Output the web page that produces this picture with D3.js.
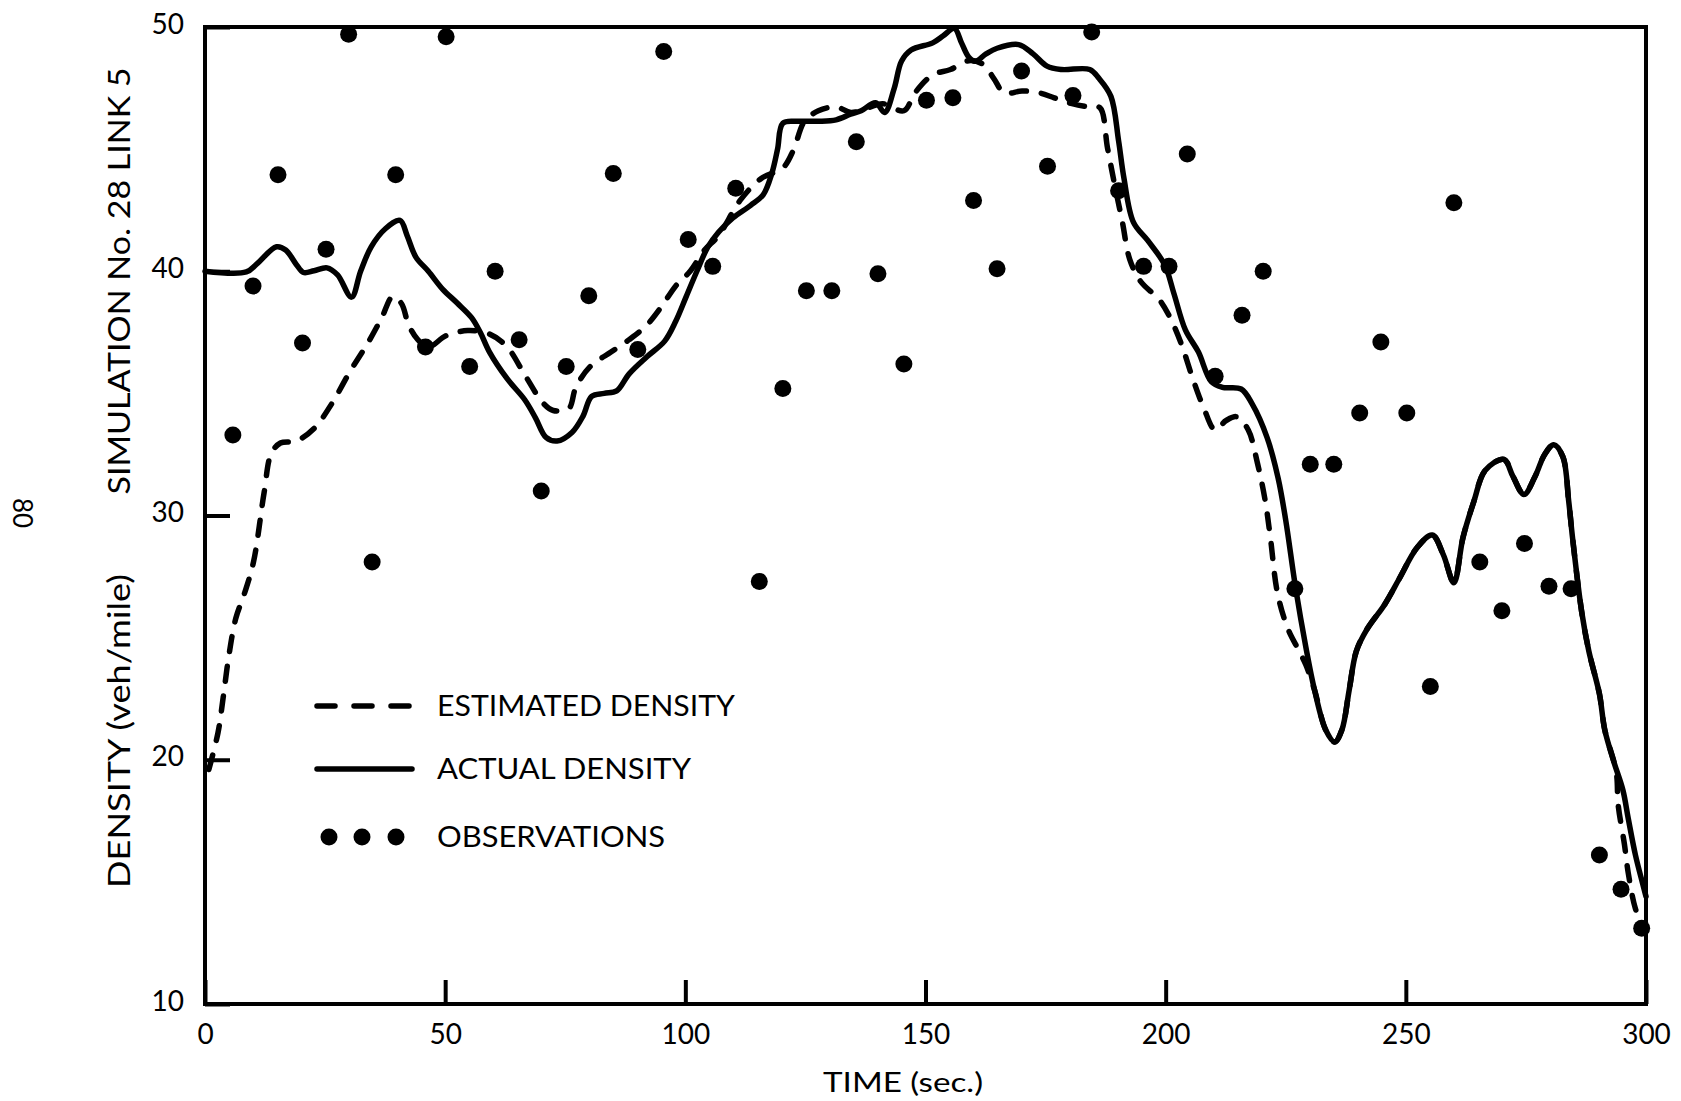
<!DOCTYPE html>
<html>
<head>
<meta charset="utf-8">
<script src="https://cdn.jsdelivr.net/npm/d3@7"></script>
<style>
  body { margin: 0; background: #ffffff; }
  svg text { font-family: Lato, "Open Sans", sans-serif; fill: #000000; }
</style>
</head>
<body>
<div id="graph"></div>
<script>
var actualTime = [ 0, 8.6, 10.8, 14.9, 16.8, 19.0, 20.5, 22.7, 25.4, 27.6, 30.5, 32.4, 34.6, 37.6, 40.6,
    42.1, 43.9, 46.5, 49.5, 52.5, 55.5, 57.3, 59.2, 62.9, 66.6, 68.8, 71.0, 73.3, 76.4, 78.7, 80.5,
    83.1, 85.7, 88.3, 92.0, 95.7, 98.0, 100.2, 102.4, 104.7, 106.9, 109.9, 113.6, 116.2, 118.0, 119.2,
    120.3, 123.3, 127.7, 131.4, 134.4, 136.6, 139.6, 141.5, 143.5, 145.0, 147.0, 151.5, 153.7, 156.0,
    157.5, 159.0, 160.4, 162.6, 164.9, 169.4, 172.4, 175.3, 178.3, 184.2, 186.1, 188.6, 190.2, 191.3,
    193.3, 196.3, 199.8, 201.7, 204.1, 206.8, 209.5, 211.8, 215.7, 218.0, 221.1, 223.4, 225.0, 227.0,
    229.2, 231.0, 233.3, 235.2, 236.7, 238.2, 239.7, 241.9, 245.6, 248.6, 252.4, 255.5, 257.8, 260.0,
    261.9, 264.2, 266.5, 270.4, 272.3, 274.6, 276.9, 278.9, 280.8, 282.7, 283.9, 284.7, 286.6, 288.1,
    290.3, 291.4, 293.3, 295.2, 296.3, 297.8, 299.3, 300 ];
var actualDensity = [ 40.0, 39.97, 40.3, 41.0, 40.87, 40.28, 39.95, 40.02, 40.14, 39.85, 38.94, 40.0, 41.0, 41.75, 42.08,
    41.45, 40.58, 40.0, 39.26, 38.7, 38.1, 37.5, 36.7, 35.6, 34.73, 34.0, 33.2, 33.05, 33.4, 34.07, 34.88,
    35.0, 35.1, 35.8, 36.5, 37.14, 37.95, 38.97, 40.0, 41.0, 41.6, 42.18, 42.7, 43.13, 44.0, 45.0,
    46.06, 46.14, 46.14, 46.2, 46.43, 46.57, 46.9, 46.5, 47.5, 48.6, 49.06, 49.35, 49.64, 49.94,
    49.35, 48.77, 48.6, 48.9, 49.13, 49.28, 48.9, 48.4, 48.26, 48.26, 47.9, 47.16, 45.34, 43.83,
    42.0, 41.25, 40.26, 39.1, 37.6, 36.7, 35.48, 35.25, 35.18, 34.57, 33.2, 31.54, 29.8, 27.1,
    24.6, 22.85, 21.23, 20.73, 21.23, 22.85, 24.45, 25.34, 26.36, 27.4, 28.7, 29.2, 28.4, 27.25,
    29.1, 30.6, 31.84, 32.3, 31.6, 30.86, 31.6, 32.5, 32.9, 32.4, 30.6, 29.1, 26.07, 24.45,
    22.7, 21.24, 19.92, 18.75, 17.6, 16.1, 14.93, 14.4 ];

var estimatedTime = [ 0.8, 2.7, 3.8, 4.9, 6.4, 8.2, 10.1, 12.3, 13.8, 15.7, 19.0, 22.7, 26.4, 30.2, 33.9,
    36.8, 39.1, 40.9, 42.4, 44.3, 46.5, 50.2, 54.7, 59.2, 62.9, 66.6, 70.4, 72.5, 75.7, 77.2, 80.2,
    84.6, 88.3, 92.0, 95.0, 98.0, 101.0, 104.0, 106.9, 111.4, 115.8, 120.3, 122.5, 124.8, 127.7, 131.4,
    134.5, 138.1, 141.1, 145.5, 147.8, 151.5, 155.2, 159.0, 162.0, 164.2, 166.4, 170.1, 173.8, 176.8,
    180.5, 184.2, 186.3, 187.9, 189.4, 191.0, 192.5, 194.8, 198.7, 201.0, 203.3, 205.6, 207.9, 210.3,
    212.6, 214.9, 217.2, 219.1, 220.7, 221.8, 223.3, 225.5, 227.8, 229.2, 231.0, 233.3, 235.2, 236.7,
    238.2, 239.7, 241.9, 245.6, 248.6, 252.4, 255.5, 257.8, 260.0, 261.9, 264.2, 266.5, 270.4, 272.3,
    274.6, 276.9, 278.9, 280.8, 282.7, 283.9, 284.7, 286.6, 288.1, 290.3, 291.4, 293.8, 294.2, 295.5,
    296.3, 297.8, 299.3, 300 ];
var estimatedDensity = [ 19.6, 21.1, 22.57, 24.17, 25.78, 26.8, 28.1, 30.93, 32.54, 32.97, 33.05, 33.56, 34.58, 35.9, 37.06,
    38.1, 38.97, 38.68, 37.8, 37.2, 36.9, 37.36, 37.57, 37.43, 36.9, 35.75, 34.6, 34.3, 34.37, 35.24, 36.1,
    36.7, 37.2, 37.8, 38.54, 39.4, 40.0, 40.87, 41.45, 42.9, 43.8, 44.23, 44.96, 46.14, 46.57, 46.73,
    46.5, 46.7, 46.86, 46.57, 47.3, 48.04, 48.26, 48.62, 48.47, 47.9, 47.3, 47.38, 47.3, 47.1,
    46.86, 46.72, 46.7, 45.04, 43.52, 42.0, 40.5, 39.58, 38.83, 38.07, 37.0, 35.63, 34.42, 33.5,
    33.89, 34.04, 33.5, 32.15, 30.63, 29.1, 26.8, 25.34, 24.45, 23.88, 22.85, 21.23, 20.73, 21.23,
    22.85, 24.45, 25.34, 26.36, 27.4, 28.7, 29.2, 28.4, 27.25, 29.1, 30.6, 31.84, 32.3, 31.6,
    30.86, 31.6, 32.5, 32.9, 32.4, 30.6, 29.1, 26.07, 24.45, 22.7, 21.24, 19.5, 18.16, 16.55,
    15.37, 13.9, 13.2, 13.0 ];

var obsTime = [ 5.8, 10, 15.2, 20.3, 25.2, 29.9, 34.8, 39.7, 45.9, 50.2, 55.1, 60.4, 65.4, 70, 75.2,
    79.9, 85, 90.1, 95.5, 100.6, 105.7, 110.5, 115.4, 120.3, 125.2, 130.5, 135.6, 140.1, 145.5, 150.2,
    155.7, 160, 164.9, 170, 175.4, 180.7, 184.6, 190.2, 195.4, 200.7, 204.5, 210.3, 215.9, 220.3, 226.9,
    230.1, 235, 240.4, 244.8, 250.2, 255.1, 260, 265.4, 270, 274.7, 279.8, 284.4, 290.3, 294.8, 299.1 ];
var obsDensity = [ 33.3, 39.4, 43.95, 37.06, 40.9, 49.7, 28.1, 43.95, 36.9, 49.6, 36.1, 40.0, 37.2, 31.0, 36.1,
    39.0, 44.0, 36.8, 49.0, 41.3, 40.2, 43.4, 27.3, 35.2, 39.2, 39.2, 45.3, 39.9, 36.2, 47.0,
    47.1, 42.9, 40.1, 48.2, 44.3, 47.2, 49.8, 43.3, 40.2, 40.2, 44.8, 35.7, 38.2, 40.0, 27.0,
    32.1, 32.1, 34.2, 37.1, 34.2, 23.0, 42.8, 28.1, 26.1, 28.85, 27.1, 27.0, 16.1, 14.7, 13.1 ];

var xTicks = [ 0, 50, 100, 150, 200, 250, 300 ];
var yTicks = [ 10, 20, 30, 40, 50 ];

var legendLabels = [ 'ESTIMATED DENSITY', 'ACTUAL DENSITY', 'OBSERVATIONS' ];

// SVG size and plot frame
var width  = 1681;
var height = 1101;
var plot = { left: 205, right: 1646, top: 27, bottom: 1004 };

var svg = d3.select ('#graph').append ('svg')
            .attr ('width', width)
            .attr ('height', height);

var xScale = d3.scaleLinear ()
               .domain ([ 0, 300 ])
               .range ([ plot.left, plot.right ]);

var yScale = d3.scaleLinear ()
               .domain ([ 10, 50 ])
               .range ([ plot.bottom, plot.top ]);

// x axis: labels below, ticks pointing up into the plot
var xAxis = d3.axisBottom (xScale)
              .tickValues (xTicks)
              .tickSize (-24)
              .tickPadding (20)
              .tickFormat (d3.format ('d'));

var gx = svg.append ('g')
            .attr ('transform', 'translate(0,' + plot.bottom + ')')
            .call (xAxis);
gx.select ('.domain').remove ();
gx.selectAll ('line').attr ('stroke', '#000').attr ('stroke-width', 4);
gx.selectAll ('text').attr ('font-size', '28px').attr ('font-family', 'Lato, sans-serif');

// y axis: labels left, ticks pointing right into the plot
var yAxis = d3.axisLeft (yScale)
              .tickValues (yTicks)
              .tickSize (-25)
              .tickPadding (21)
              .tickFormat (d3.format ('d'));

var gy = svg.append ('g')
            .attr ('transform', 'translate(' + plot.left + ',0)')
            .call (yAxis);
gy.select ('.domain').remove ();
gy.selectAll ('line').attr ('stroke', '#000').attr ('stroke-width', 4);
gy.selectAll ('text').attr ('font-size', '28px').attr ('font-family', 'Lato, sans-serif')
  .attr ('dy', '0.22em');

// frame
svg.append ('rect')
   .attr ('x', xScale (0))
   .attr ('y', yScale (50))
   .attr ('width', xScale (300) - xScale (0))
   .attr ('height', yScale (10) - yScale (50))
   .attr ('fill', 'none')
   .attr ('stroke', '#000')
   .attr ('stroke-width', 4);

// curves
var line = d3.line ()
             .x (function (d) { return xScale (d[0]); })
             .y (function (d) { return yScale (d[1]); })
             .curve (d3.curveCatmullRom.alpha (0.5));

var actual    = d3.zip (actualTime, actualDensity);
var estimated = d3.zip (estimatedTime, estimatedDensity);

svg.append ('path')
   .datum (estimated)
   .attr ('d', line)
   .attr ('fill', 'none')
   .attr ('stroke', '#000')
   .attr ('stroke-width', 5.5)
   .attr ('stroke-linecap', 'round')
   .attr ('stroke-dasharray', '15,15');

svg.append ('path')
   .datum (actual)
   .attr ('d', line)
   .attr ('fill', 'none')
   .attr ('stroke', '#000')
   .attr ('stroke-width', 5.5)
   .attr ('stroke-linejoin', 'round')
   .attr ('stroke-linecap', 'round');

// observations
svg.selectAll ('circle.obs')
   .data (d3.zip (obsTime, obsDensity))
   .enter ()
   .append ('circle')
   .attr ('class', 'obs')
   .attr ('cx', function (d) { return xScale (d[0]); })
   .attr ('cy', function (d) { return yScale (d[1]); })
   .attr ('r', 8.5)
   .attr ('fill', '#000');

// legend
var legendX = 314, legendW = 98, legendY = [ 706, 769, 837 ];
var legendTextLen = [ 298, 254, 228 ];

svg.append ('line')
   .attr ('x1', legendX + 3).attr ('x2', legendX + legendW)
   .attr ('y1', legendY[0]).attr ('y2', legendY[0])
   .attr ('stroke', '#000').attr ('stroke-width', 5.5)
   .attr ('stroke-linecap', 'round')
   .attr ('stroke-dasharray', '18,19');

svg.append ('line')
   .attr ('x1', legendX + 3).attr ('x2', legendX + legendW)
   .attr ('y1', legendY[1]).attr ('y2', legendY[1])
   .attr ('stroke', '#000').attr ('stroke-width', 5.5)
   .attr ('stroke-linecap', 'round');

[ 329, 362, 396 ].forEach (function (cx)
{
    svg.append ('circle')
       .attr ('cx', cx).attr ('cy', legendY[2])
       .attr ('r', 8.5).attr ('fill', '#000');
});

for (var i = 0; i < legendLabels.length; i++)
{
    svg.append ('text')
       .attr ('x', 437)
       .attr ('y', legendY[i] + 10)
       .attr ('font-size', '28px')
       .attr ('textLength', legendTextLen[i])
       .attr ('lengthAdjust', 'spacingAndGlyphs')
       .text (legendLabels[i]);
}

// axis titles
svg.append ('text')
   .attr ('x', 903).attr ('y', 1092)
   .attr ('text-anchor', 'middle')
   .attr ('font-size', '27px')
   .attr ('textLength', 160)
   .attr ('lengthAdjust', 'spacingAndGlyphs')
   .text ('TIME (sec.)');

svg.append ('text')
   .attr ('transform', 'translate(130,281) rotate(-90)')
   .attr ('text-anchor', 'middle')
   .attr ('font-size', '31px')
   .attr ('textLength', 427)
   .attr ('lengthAdjust', 'spacingAndGlyphs')
   .text ('SIMULATION No. 28 LINK 5');

svg.append ('text')
   .attr ('transform', 'translate(130,731) rotate(-90)')
   .attr ('text-anchor', 'middle')
   .attr ('font-size', '31px')
   .attr ('textLength', 314)
   .attr ('lengthAdjust', 'spacingAndGlyphs')
   .text ('DENSITY (veh/mile)');

// page number, printed sideways
svg.append ('text')
   .attr ('transform', 'translate(13,513) rotate(90)')
   .attr ('text-anchor', 'middle')
   .attr ('font-size', '26px')
   .text ('80');
</script>
</body>
</html>
